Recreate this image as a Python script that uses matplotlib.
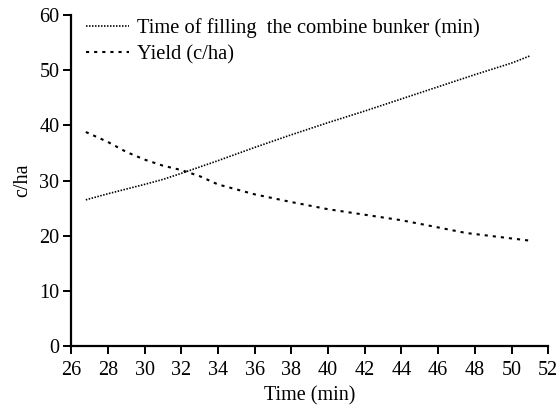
import matplotlib.pyplot as plt

plt.rcParams['font.family'] = ['Liberation Serif', 'DejaVu Serif']

# Time of filling the combine bunker (min)
t_x = [26.8, 28, 30, 31, 32, 34, 36, 38, 40, 42, 44, 46, 48, 50, 51]
t_y = [26.5, 27.6, 29.3, 30.2, 31.3, 33.6, 36.0, 38.3, 40.5, 42.6, 44.8, 47.0, 49.2, 51.3, 52.6]

# Yield (c/ha)
y_x = [26.8, 28, 29, 30, 31, 32, 33, 34, 36, 38, 40, 42, 44, 46, 47.5, 49, 51]
y_y = [38.8, 37.0, 35.2, 33.8, 32.7, 31.9, 30.8, 29.3, 27.5, 26.1, 24.8, 23.8, 22.8, 21.5, 20.5, 19.9, 19.1]

fig = plt.figure(figsize=(5.6, 4.08), dpi=100)
ax = fig.add_axes([0.127, 0.152, 0.852, 0.811])

ax.plot(t_x, t_y, color='black', linewidth=1.2, linestyle=(0, (0.9, 0.9)),
        label='Time of filling  the combine bunker (min)')
ax.plot(y_x, y_y, color='black', linewidth=1.5, linestyle=(0, (1.5, 2.4)),
        label='Yield (c/ha)')

ax.set_xlim(26, 52)
ax.set_ylim(0, 60)
ax.set_xticks(range(26, 53, 2))
ax.set_yticks(range(0, 61, 10))

for s in ['top', 'right']:
    ax.spines[s].set_visible(False)
for s in ['left', 'bottom']:
    ax.spines[s].set_linewidth(1.6)
ax.tick_params(direction='out', length=5.5, width=1.4, labelsize=14.5)
ax.tick_params(axis='x', pad=5)
ax.tick_params(axis='y', pad=3)

ax.set_xlabel('Time (min)', fontsize=14.5, labelpad=5)
ax.set_ylabel('c/ha', fontsize=14.5, labelpad=5)

ax.legend(loc='upper left', bbox_to_anchor=(0.0, 1.035), frameon=False,
          fontsize=14.8, handlelength=2.1, handletextpad=0.4, labelspacing=0.35,
          borderaxespad=0.3)

fig.savefig('out.png', dpi=100)
